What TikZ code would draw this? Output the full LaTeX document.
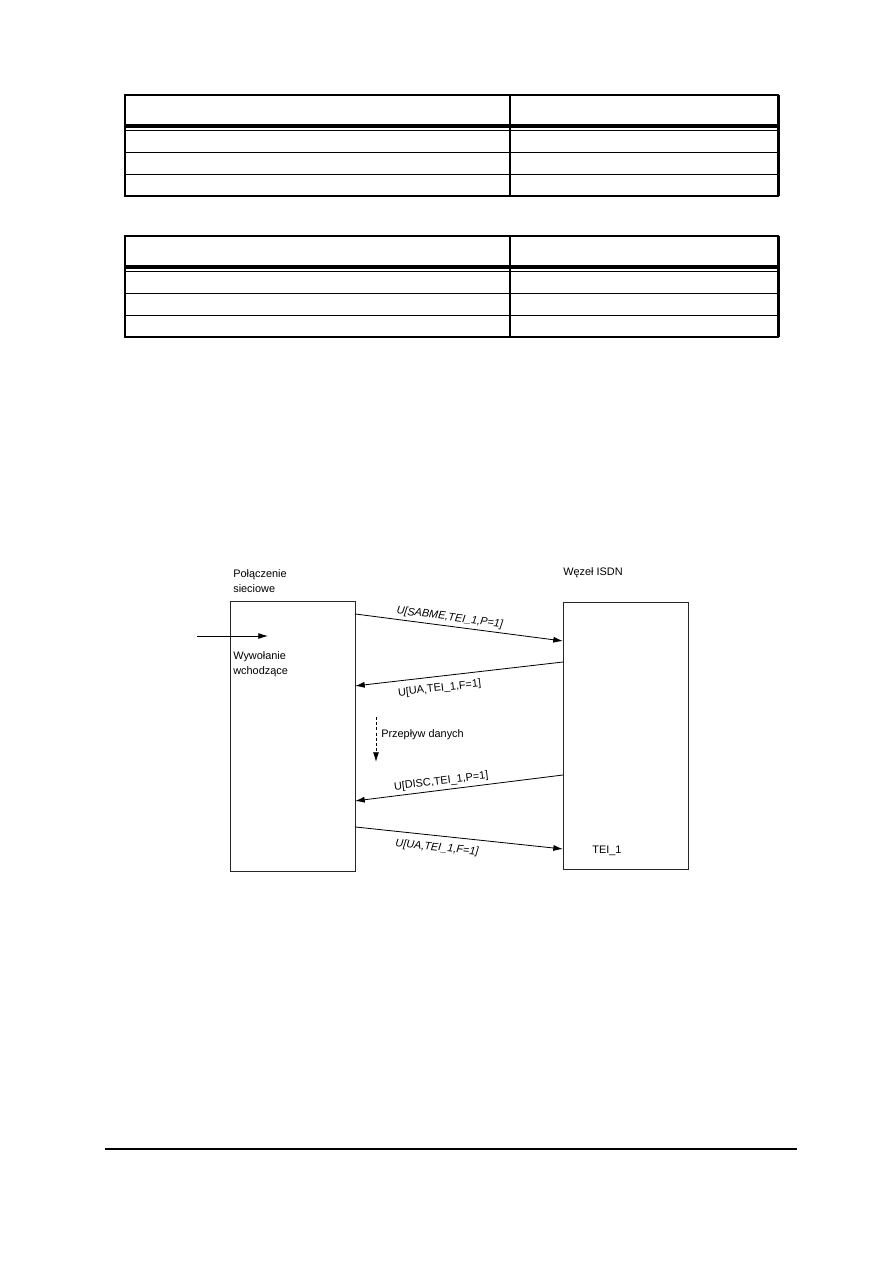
\documentclass[tikz,border=0pt]{standalone}
\usepackage{fontspec}
\setmainfont{Liberation Sans}
\usetikzlibrary{arrows.meta}

\begin{document}
\begin{tikzpicture}[x=0.2352mm,y=-0.2352mm,
    box/.style={draw=black!85, line width=0.6pt, minimum width=29.4mm, inner sep=0pt, outer sep=0pt},
    txt/.style={anchor=west, align=left, inner sep=0pt, font=\fontsize{7.3}{10}\selectfont},
    msg/.style={-{Latex[length=6.5pt,width=4pt]}, line width=0.55pt},
    lbl/.style={font=\fontsize{7.3}{8}\selectfont, sloped, inner sep=2pt}]
    \useasboundingbox (0,0) rectangle (893,1263);
    % Tabele
    \foreach \o in {0,141} {
        \begin{scope}[shift={(0,\o)}]
            \draw[line width=0.5pt] (125,130.5) -- (778,130.5);
            \draw[line width=0.6pt] (125,152.5) -- (778,152.5) (125,174.5) -- (778,174.5);
            \draw[line width=2.7pt] (125,126.3) -- (778,126.3);
            \draw[line width=1pt] (510,95) -- (510,196);
            \draw[line width=1.1pt] (125,95) rectangle (778,196);
            \draw[line width=2pt] (778,95) -- (778,196);
        \end{scope}
    }
    % Bloki
    \node[box, minimum height=63.3mm] (siec) at (292.5,736.5) {};
    \node[box, minimum height=62.8mm] (wezel) at (625.5,735.5) {};
    % Opisy
    \node[txt] (tsiec) at (233,581.5) {Połączenie\\sieciowe};
    \node[txt] (twezel) at (563,573) {Węzeł ISDN};
    \node[txt] (twyw) at (233,664) {Wywołanie\\wchodzące};
    \node[txt] (tdane) at (381,735) {Przepływ danych};
    \node[txt, anchor=center] (ttei) at (607,851) {TEI\_1};
    % Punkty na krawedziach
    \path (siec.north east) ++(0,12) coordinate (s1)
          (siec.north east) ++(0,84) coordinate (s2)
          (siec.north east) ++(0,199) coordinate (s3)
          (siec.north east) ++(0,225) coordinate (s4);
    \path (wezel.north west) ++(0,39) coordinate (w1)
          (wezel.north west) ++(0,60) coordinate (w2)
          (wezel.north west) ++(0,173) coordinate (w3)
          (wezel.north west) ++(0,247) coordinate (w4);
    \coordinate (we) at (197,636);
    \coordinate (wy) at (268,636);
    \coordinate (d1) at (376,717);
    \coordinate (d2) at (376,762);
    % Strzalki
    \draw[msg] (we) -- (wy);
    \draw[msg] (s1) -- (w1) node[lbl, pos=0.45, above] {\itshape U[SABME,TEI\_1,P=1]};
    \draw[msg] (w2) -- (s2) node[lbl, pos=0.6, below, inner sep=4.5pt] {U[UA,TEI\_1,F=1]};
    \draw[msg] (w3) -- (s3) node[lbl, pos=0.58, above] {U[DISC,TEI\_1,P=1]};
    \draw[msg] (s4) -- (w4) node[lbl, pos=0.4, below, inner sep=4.5pt] {\itshape U[UA,TEI\_1,F=1]};
    \draw[msg, dash pattern=on 2pt off 1.5pt] (d1) -- (d2);
    % Stopka
    \draw[line width=0.8pt] (105,1149) -- (797,1149);
\end{tikzpicture}
\end{document}
